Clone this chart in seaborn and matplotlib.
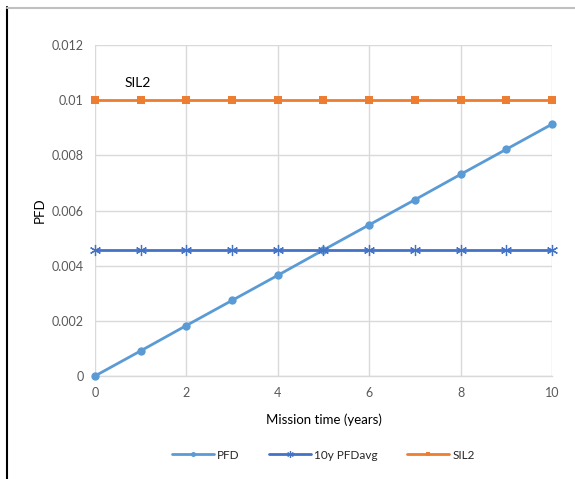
import matplotlib
matplotlib.use("Agg")
import matplotlib.pyplot as plt
from matplotlib.lines import Line2D
import seaborn as sns
import pandas as pd

years = [0, 1, 2, 3, 4, 5, 6, 7, 8, 9, 10]
pfd = [0.0, 0.00091, 0.00183, 0.00274, 0.00365, 0.00457, 0.00548, 0.00639, 0.00731, 0.00822, 0.00913]
pfd_avg = [0.00457] * 11
sil2 = [0.01] * 11
series_names = ["PFD", "10y PFDavg", "SIL2"]
y_ticks = [0, 0.002, 0.004, 0.006, 0.008, 0.01, 0.012]
y_tick_labels = ["0", "0.002", "0.004", "0.006", "0.008", "0.01", "0.012"]
x_ticks = [0, 2, 4, 6, 8, 10]

sns.set_theme(style="white")
plt.rcParams["font.family"] = ["Lato", "DejaVu Sans"]

fig = plt.figure(figsize=(5.75, 4.79), dpi=100)
ax = fig.add_axes([0.165, 0.215, 0.795, 0.691])

df = pd.DataFrame({"year": years * 3,
                   "value": pfd + pfd_avg + sil2,
                   "series": [series_names[0]] * 11 + [series_names[1]] * 11 + [series_names[2]] * 11})

colors = {"PFD": "#5b9bd5", "10y PFDavg": "#4472c4", "SIL2": "#ed7d31"}
markers = {"PFD": "o", "10y PFDavg": (6, 2, 0), "SIL2": "s"}
sizes = {"PFD": 6, "10y PFDavg": 8, "SIL2": 6}
for name in series_names:
    sub = df[df["series"] == name]
    sns.lineplot(data=sub, x="year", y="value", ax=ax, color=colors[name],
                 marker=markers[name], markersize=sizes[name], linewidth=2,
                 markeredgecolor=colors[name], markeredgewidth=0.9 if name == "10y PFDavg" else 0,
                 label=name, zorder=3)

ax.set_xlim(0, 10)
ax.set_ylim(0, 0.012)
ax.set_xticks(x_ticks)
ax.set_xticklabels([str(t) for t in x_ticks])
ax.set_yticks(y_ticks)
ax.set_yticklabels(y_tick_labels)
ax.grid(True, color="#d9d9d9", linewidth=1)
for s in ax.spines.values():
    s.set_visible(False)
ax.spines["bottom"].set_visible(True)
ax.spines["bottom"].set_color("#d9d9d9")
ax.spines["bottom"].set_linewidth(1)
ax.tick_params(axis="both", colors="#595959", labelsize=9, length=0, pad=8)
for ln in ax.lines:
    ln.set_clip_on(False)

ax.set_xlabel("Mission time (years)", fontsize=9.5, color="#000000", labelpad=10)
ax.set_ylabel("PFD", fontsize=9.5, color="#000000", labelpad=4)

ax.text(0.65, 0.0104, "SIL2", fontsize=10, color="#000000", va="bottom", ha="left")

leg = ax.legend(loc="upper center", bbox_to_anchor=(0.5, -0.19), ncol=3, frameon=False,
                fontsize=8.5, handlelength=3.5, columnspacing=2.5, handletextpad=0.3, markerscale=0.6)

fig.add_artist(Line2D([7/575, 7/575], [1 - 7/479, 0], color="black", linewidth=1.5))
fig.add_artist(Line2D([7/575, 1], [1 - 8/479, 1 - 8/479], color="#c0c0c0", linewidth=1.5))

fig.savefig("out.png", dpi=100, facecolor="white")
